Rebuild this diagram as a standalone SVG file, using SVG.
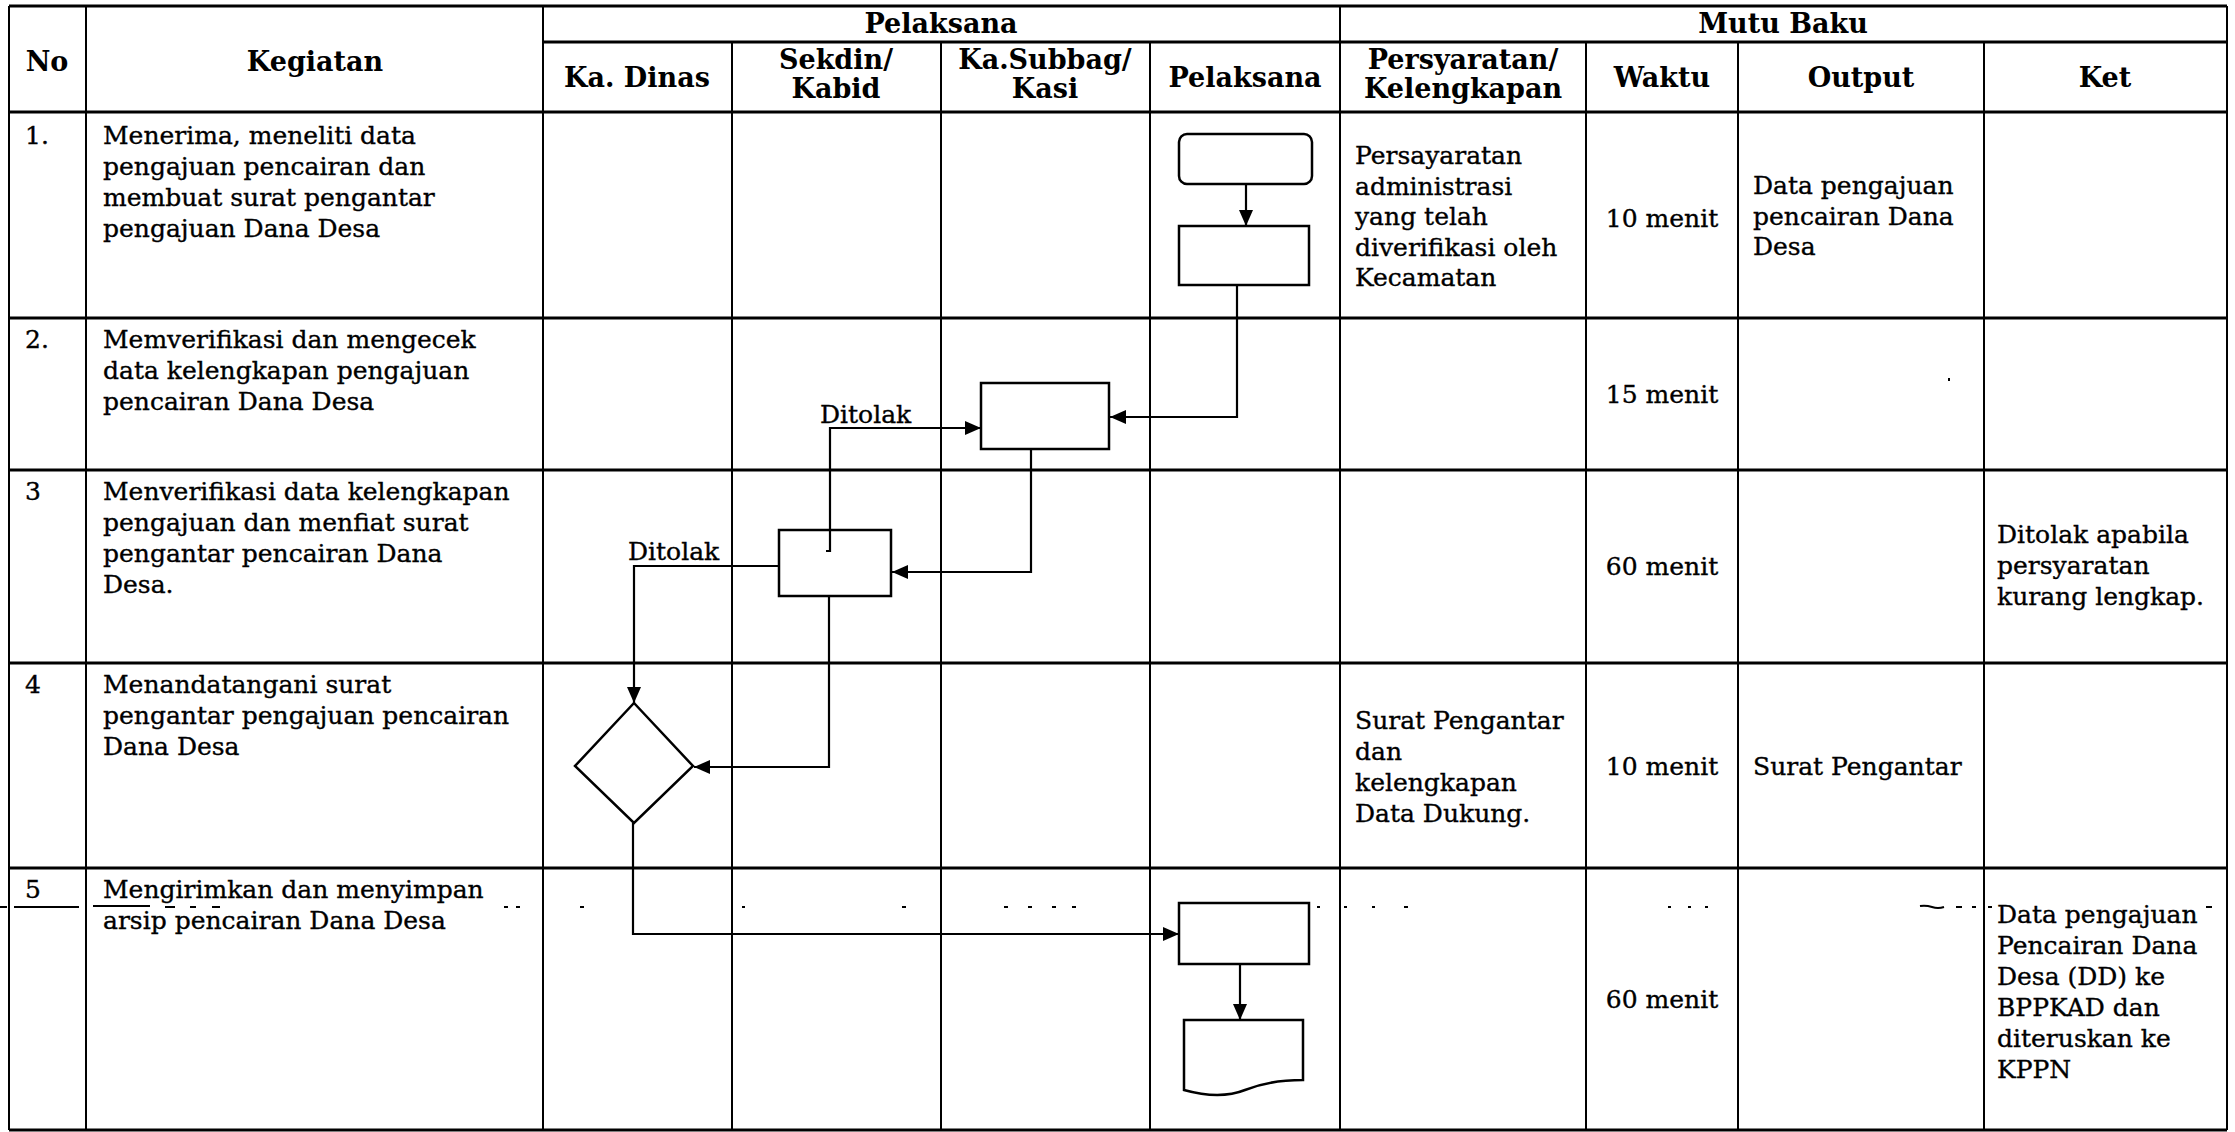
<svg xmlns="http://www.w3.org/2000/svg" width="2235" height="1132" viewBox="0 0 2235 1132">
<style>
  .t{font-family:"DejaVu Serif","Liberation Serif",serif;font-size:25px;fill:#000;stroke:#000;stroke-width:0.35}
  .h{font-family:"DejaVu Serif","Liberation Serif",serif;font-size:27px;font-weight:bold;fill:#000;text-anchor:middle}
  .c{text-anchor:middle}
  .gh{stroke:#000;stroke-width:3;fill:none}
  .gv{stroke:#000;stroke-width:2;fill:none}
  .shape{fill:#fff;stroke:#000;stroke-width:2.5}
  .conn{fill:none;stroke:#000;stroke-width:2.2}
  .mark{stroke:#000;stroke-width:2;fill:none}
</style>
<defs>
  <marker id="ah" markerWidth="17" markerHeight="14" refX="16" refY="7" orient="auto" markerUnits="userSpaceOnUse">
    <path d="M0,0 L16,7 L0,14 Z" fill="#000"/>
  </marker>
</defs>
<rect x="0" y="0" width="2235" height="1132" fill="#fff"/>

<g id="grid">
  <line class="gh" x1="9" y1="6" x2="2227" y2="6"/>
  <line class="gh" x1="543" y1="42" x2="2227" y2="42"/>
  <line class="gh" x1="9" y1="112" x2="2227" y2="112"/>
  <line class="gh" x1="9" y1="318" x2="2227" y2="318"/>
  <line class="gh" x1="9" y1="470" x2="2227" y2="470"/>
  <line class="gh" x1="9" y1="663" x2="2227" y2="663"/>
  <line class="gh" x1="9" y1="868" x2="2227" y2="868"/>
  <line class="gh" x1="9" y1="1130" x2="2227" y2="1130"/>
  <line class="gv" x1="9" y1="6" x2="9" y2="1130"/>
  <line class="gv" x1="86" y1="6" x2="86" y2="1130"/>
  <line class="gv" x1="543" y1="6" x2="543" y2="1130"/>
  <line class="gv" x1="732" y1="42" x2="732" y2="1130"/>
  <line class="gv" x1="941" y1="42" x2="941" y2="1130"/>
  <line class="gv" x1="1150" y1="42" x2="1150" y2="1130"/>
  <line class="gv" x1="1340" y1="6" x2="1340" y2="1130"/>
  <line class="gv" x1="1586" y1="42" x2="1586" y2="1130"/>
  <line class="gv" x1="1738" y1="42" x2="1738" y2="1130"/>
  <line class="gv" x1="1984" y1="42" x2="1984" y2="1130"/>
  <line class="gv" x1="2227" y1="6" x2="2227" y2="1130"/>
</g>

<g id="headers">
  <text class="h" x="47" y="71">No</text>
  <text class="h" x="315" y="71">Kegiatan</text>
  <text class="h" x="941" y="33">Pelaksana</text>
  <text class="h" x="1783" y="33">Mutu Baku</text>
  <text class="h" x="637" y="87">Ka. Dinas</text>
  <text class="h" x="836" y="69">Sekdin/</text>
  <text class="h" x="836" y="98">Kabid</text>
  <text class="h" x="1045" y="69">Ka.Subbag/</text>
  <text class="h" x="1045" y="98">Kasi</text>
  <text class="h" x="1245" y="87">Pelaksana</text>
  <text class="h" x="1463" y="69">Persyaratan/</text>
  <text class="h" x="1463" y="98">Kelengkapan</text>
  <text class="h" x="1662" y="87">Waktu</text>
  <text class="h" x="1861" y="87">Output</text>
  <text class="h" x="2105" y="87">Ket</text>
</g>

<g id="col-no">
  <text class="t" x="25" y="144">1.</text>
  <text class="t" x="25" y="348">2.</text>
  <text class="t" x="25" y="500">3</text>
  <text class="t" x="25" y="693">4</text>
  <text class="t" x="25" y="898">5</text>
</g>

<g id="col-kegiatan">
  <text class="t" x="103" y="144">Menerima, meneliti data</text>
  <text class="t" x="103" y="175">pengajuan pencairan dan</text>
  <text class="t" x="103" y="206">membuat surat pengantar</text>
  <text class="t" x="103" y="237">pengajuan Dana Desa</text>
  <text class="t" x="103" y="348">Memverifikasi dan mengecek</text>
  <text class="t" x="103" y="379">data kelengkapan pengajuan</text>
  <text class="t" x="103" y="410">pencairan Dana Desa</text>
  <text class="t" x="103" y="500">Menverifikasi data kelengkapan</text>
  <text class="t" x="103" y="531">pengajuan dan menfiat surat</text>
  <text class="t" x="103" y="562">pengantar pencairan Dana</text>
  <text class="t" x="103" y="593">Desa.</text>
  <text class="t" x="103" y="693">Menandatangani surat</text>
  <text class="t" x="103" y="724">pengantar pengajuan pencairan</text>
  <text class="t" x="103" y="755">Dana Desa</text>
  <text class="t" x="103" y="898">Mengirimkan dan menyimpan</text>
  <text class="t" x="103" y="929">arsip pencairan Dana Desa</text>
</g>

<g id="col-persyaratan">
  <text class="t" x="1355" y="164">Persayaratan</text>
  <text class="t" x="1355" y="194.5">administrasi</text>
  <text class="t" x="1355" y="225">yang telah</text>
  <text class="t" x="1355" y="255.5">diverifikasi oleh</text>
  <text class="t" x="1355" y="286">Kecamatan</text>
  <text class="t" x="1355" y="729">Surat Pengantar</text>
  <text class="t" x="1355" y="760">dan</text>
  <text class="t" x="1355" y="791">kelengkapan</text>
  <text class="t" x="1355" y="822">Data Dukung.</text>
</g>

<g id="col-waktu">
  <text class="t c" x="1662" y="227">10 menit</text>
  <text class="t c" x="1662" y="403">15 menit</text>
  <text class="t c" x="1662" y="575">60 menit</text>
  <text class="t c" x="1662" y="775">10 menit</text>
  <text class="t c" x="1662" y="1008">60 menit</text>
</g>

<g id="col-output">
  <text class="t" x="1753" y="194">Data pengajuan</text>
  <text class="t" x="1753" y="224.5">pencairan Dana</text>
  <text class="t" x="1753" y="255">Desa</text>
  <text class="t" x="1753" y="775">Surat Pengantar</text>
</g>

<g id="col-ket">
  <text class="t" x="1997" y="543">Ditolak apabila</text>
  <text class="t" x="1997" y="574">persyaratan</text>
  <text class="t" x="1997" y="605">kurang lengkap.</text>
  <text class="t" x="1997" y="923">Data pengajuan</text>
  <text class="t" x="1997" y="954">Pencairan Dana</text>
  <text class="t" x="1997" y="985">Desa (DD) ke</text>
  <text class="t" x="1997" y="1016">BPPKAD dan</text>
  <text class="t" x="1997" y="1047">diteruskan ke</text>
  <text class="t" x="1997" y="1078">KPPN</text>
</g>

<g id="connectors">
  <path class="conn" d="M1246,185 V226" marker-end="url(#ah)"/>
  <path class="conn" d="M1237,286 V417 H1110" marker-end="url(#ah)"/>
  <path class="conn" d="M830,551 V428 H981" marker-end="url(#ah)"/>
  <path class="conn" d="M1031,450 V572 H892" marker-end="url(#ah)"/>
  <path class="conn" d="M779,566 H634 V703" marker-end="url(#ah)"/>
  <path class="conn" d="M829,597 V767 H694" marker-end="url(#ah)"/>
  <path class="conn" d="M633,823 V934 H1179" marker-end="url(#ah)"/>
  <path class="conn" d="M1240,965 V1020" marker-end="url(#ah)"/>
  <text class="t" x="820" y="423">Ditolak</text>
  <text class="t" x="628" y="560">Ditolak</text>
</g>

<g id="n1-start"><rect class="shape" x="1179" y="134" width="133" height="50" rx="8"/></g>
<g id="n2-process"><rect class="shape" x="1179" y="226" width="130" height="59"/></g>
<g id="n3-kasubbag"><rect class="shape" x="981" y="383" width="128" height="66"/></g>
<g id="n4-sekdin"><rect class="shape" x="779" y="530" width="112" height="66"/></g>
<g id="connector-stub"><path class="conn" d="M830,530 V551 H826"/></g>
<g id="n5-decision"><polygon class="shape" points="634,703 693,766 634,823 575,766"/></g>
<g id="n6-send"><rect class="shape" x="1179" y="903" width="130" height="61"/></g>
<g id="n7-archive"><path class="shape" d="M1184,1020 H1303 V1080 Q1270,1080 1245,1090 T1184,1090 Z"/></g>

<g id="scan-marks">
  <line class="mark" x1="0" y1="907" x2="7" y2="907" stroke-width="3"/>
  <line class="mark" x1="14" y1="907" x2="79" y2="907" stroke-width="3"/>
  <line class="mark" x1="93" y1="906" x2="150" y2="906" stroke-width="1.5"/>
  <line class="mark" x1="165" y1="907" x2="175" y2="907"/>
  <line class="mark" x1="190" y1="907" x2="196" y2="907"/>
  <line class="mark" x1="212" y1="907" x2="220" y2="907"/>
  <line class="mark" x1="504" y1="907" x2="508" y2="907"/>
  <line class="mark" x1="516" y1="907" x2="520" y2="907"/>
  <line class="mark" x1="580" y1="907" x2="584" y2="907"/>
  <line class="mark" x1="742" y1="907" x2="745" y2="907"/>
  <line class="mark" x1="902" y1="907" x2="906" y2="907"/>
  <line class="mark" x1="1004" y1="907" x2="1008" y2="907"/>
  <line class="mark" x1="1028" y1="907" x2="1032" y2="907"/>
  <line class="mark" x1="1052" y1="907" x2="1056" y2="907"/>
  <line class="mark" x1="1072" y1="907" x2="1076" y2="907"/>
  <line class="mark" x1="1317" y1="907" x2="1320" y2="907"/>
  <line class="mark" x1="1344" y1="907" x2="1347" y2="907"/>
  <line class="mark" x1="1372" y1="907" x2="1375" y2="907"/>
  <line class="mark" x1="1404" y1="907" x2="1408" y2="907"/>
  <line class="mark" x1="1668" y1="907" x2="1671" y2="907"/>
  <line class="mark" x1="1688" y1="907" x2="1691" y2="907"/>
  <line class="mark" x1="1705" y1="907" x2="1708" y2="907"/>
  <path class="mark" d="M1920,906 Q1926,905 1932,907 T1944,907" stroke-width="1.5"/>
  <line class="mark" x1="1956" y1="907" x2="1962" y2="907"/>
  <line class="mark" x1="1972" y1="907" x2="1976" y2="907"/>
  <line class="mark" x1="1988" y1="907" x2="1992" y2="907"/>
  <line class="mark" x1="2206" y1="907" x2="2212" y2="907"/>
  <rect x="1948" y="378" width="2" height="3" fill="#000"/>
</g>
</svg>
